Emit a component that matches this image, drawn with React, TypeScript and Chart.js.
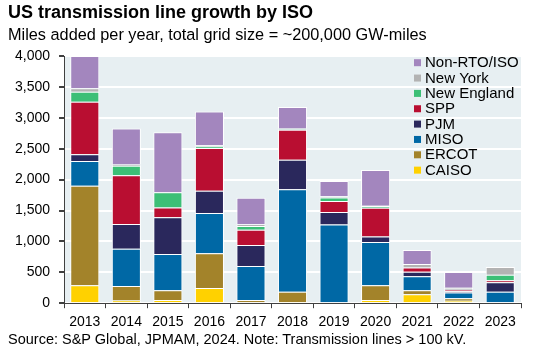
import React, { useEffect, useRef } from 'react';
import { Chart, registerables } from 'chart.js';

Chart.register(...registerables);

const years = ['2013', '2014', '2015', '2016', '2017', '2018', '2019', '2020', '2021', '2022', '2023'];
const caiso = [290, 45, 50, 245, 0, 20, 0, 50, 146, 38, 0];
const ercot = [1610, 235, 160, 565, 50, 164, 0, 242, 65, 43, 0];
const miso = [400, 600, 585, 650, 550, 1660, 1275, 700, 227, 92, 184];
const pjm = [110, 400, 595, 360, 340, 476, 200, 87, 70, 20, 157];
const spp = [850, 790, 160, 690, 250, 486, 180, 465, 70, 23, 32];
const newEngland = [160, 156, 245, 25, 60, 10, 54, 27, 0, 0, 87];
const newYork = [60, 20, 0, 20, 27, 10, 20, 5, 55, 35, 124];
const nonRto = [520, 580, 970, 545, 430, 347, 250, 580, 227, 255, 0];
const yTicks = [0, 500, 1000, 1500, 2000, 2500, 3000, 3500, 4000];

const seriesNames = ['CAISO', 'ERCOT', 'MISO', 'PJM', 'SPP', 'New England', 'New York', 'Non-RTO/ISO'];
const seriesColors = ['#ffd100', '#a3832a', '#0068a5', '#2a285c', '#b90e31', '#3cbf76', '#b3b3b3', '#a386be'];

const FONT = 'Arial, "Liberation Sans", sans-serif';

const bgPlugin = {
  id: 'plotBg',
  beforeDraw(chart: any) {
    const { ctx, chartArea } = chart;
    ctx.save();
    ctx.fillStyle = '#e7eff2';
    ctx.fillRect(chartArea.left, chartArea.top, chartArea.right - chartArea.left, chartArea.bottom - chartArea.top);
    ctx.restore();
  },
};

const legendPlugin = {
  id: 'insideLegend',
  afterDraw(chart: any) {
    const { ctx } = chart;
    const ds = chart.data.datasets;
    ctx.save();
    ctx.font = `15px ${FONT}`;
    ctx.textBaseline = 'middle';
    ctx.textAlign = 'left';
    for (let k = 0; k < ds.length; k++) {
      const d = ds[ds.length - 1 - k];
      const y = 62.7 + k * 15.35;
      ctx.fillStyle = d.backgroundColor;
      ctx.fillRect(414, y - 3.5, 7, 7);
      ctx.fillStyle = '#000';
      ctx.fillText(d.label, 425, y + 0.5);
    }
    ctx.restore();
  },
};

export default function App() {
  const ref = useRef<HTMLCanvasElement>(null);
  useEffect(() => {
    const values = [caiso, ercot, miso, pjm, spp, newEngland, newYork, nonRto];
    const chart = new Chart(ref.current!, {
      type: 'bar',
      data: {
        labels: years,
        datasets: seriesNames.map((n, i) => ({
          label: n,
          data: values[i],
          backgroundColor: seriesColors[i],
          borderColor: '#ffffff',
          borderWidth: 1,
          barPercentage: 0.7,
          categoryPercentage: 1,
        })),
      },
      options: {
        animation: false,
        responsive: false,
        maintainAspectRatio: false,
        layout: { padding: { left: 6, right: 14, top: 56, bottom: 17 } },
        plugins: { legend: { display: false }, tooltip: { enabled: false }, title: { display: false } },
        scales: {
          x: {
            stacked: true,
            grid: { display: true, drawOnChartArea: false, drawTicks: true, offset: true, tickLength: 5, color: '#404040', tickColor: '#404040' },
            border: { display: true, color: '#404040', width: 1 },
            ticks: { color: '#000', font: { family: FONT, size: 14 }, padding: 6, maxRotation: 0, autoSkip: false },
          },
          y: {
            stacked: true,
            min: 0,
            max: 4000,
            afterBuildTicks(axis: any) {
              axis.ticks = yTicks.map((v) => ({ value: v }));
            },
            ticks: {
              color: '#000',
              font: { family: FONT, size: 14 },
              padding: 9,
              callback: (v: any) => Number(v).toLocaleString('en-US'),
            },
            grid: { color: '#ffffff', lineWidth: 2, tickColor: '#404040', tickLength: 5 },
            border: { display: true, color: '#404040', width: 1 },
          },
        },
      } as any,
      plugins: [bgPlugin, legendPlugin],
    });
    return () => chart.destroy();
  }, []);

  return (
    <div style={{ position: 'fixed', left: 0, top: 0, width: 535, height: 354, background: '#fff', overflow: 'hidden' }}>
      <canvas ref={ref} width={535} height={354} style={{ position: 'absolute', left: 0, top: 0, width: 535, height: 354 }} />
      <div style={{ position: 'absolute', left: 8, top: 2, font: `bold 18px ${FONT}`, color: '#000', whiteSpace: 'nowrap' }}>
        US transmission line growth by ISO
      </div>
      <div style={{ position: 'absolute', left: 8, top: 24.5, font: `16.3px ${FONT}`, color: '#000', whiteSpace: 'nowrap' }}>
        Miles added per year, total grid size = ~200,000 GW-miles
      </div>
      <div style={{ position: 'absolute', left: 8, top: 331, font: `14.5px ${FONT}`, color: '#000', whiteSpace: 'nowrap' }}>
        Source: S&amp;P Global, JPMAM, 2024. Note: Transmission lines &gt; 100 kV.
      </div>
    </div>
  );
}
